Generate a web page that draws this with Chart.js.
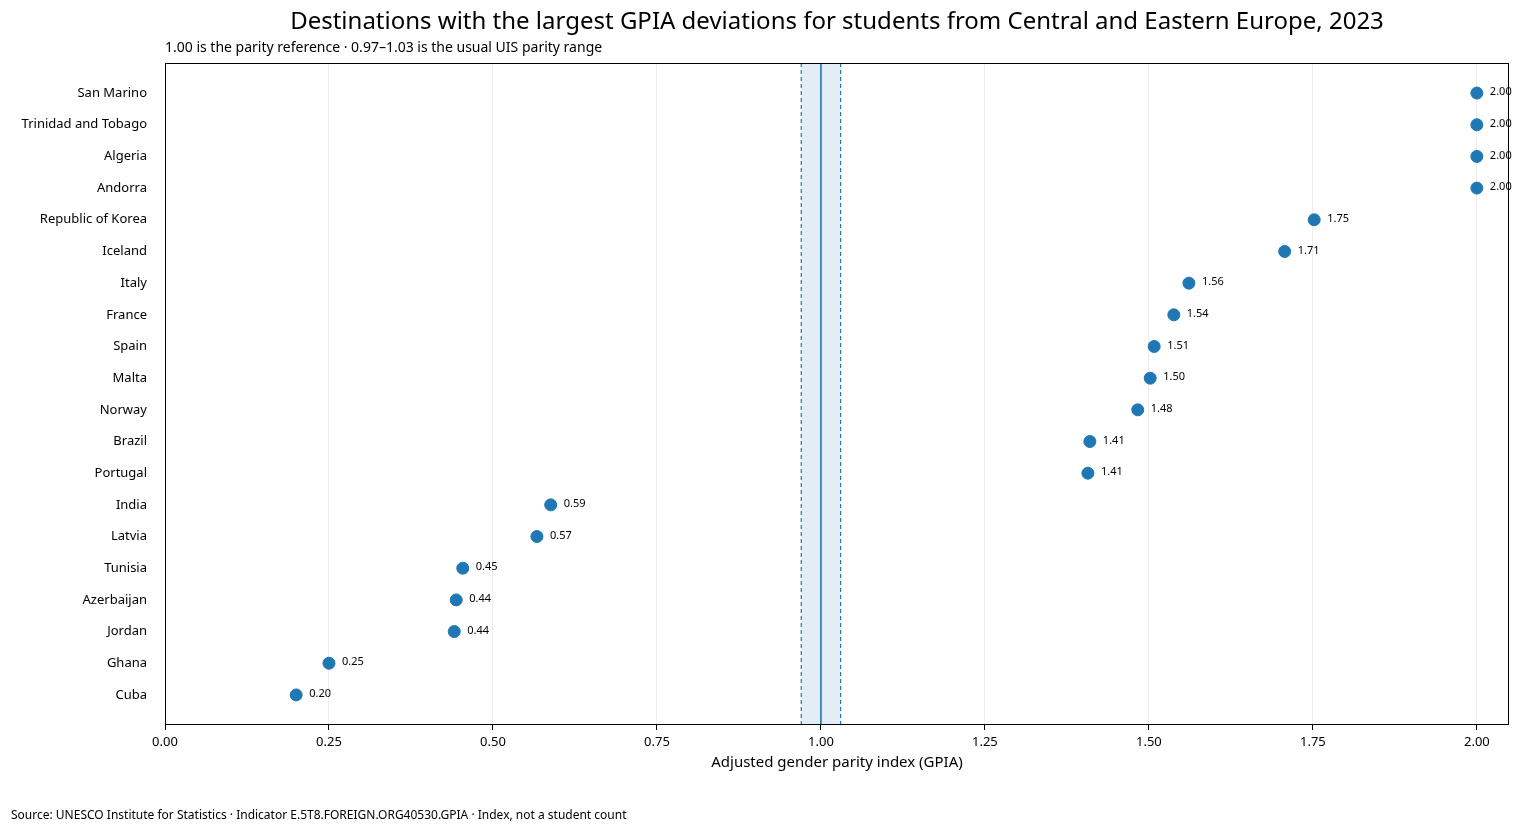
<!DOCTYPE html>
<html><head><meta charset="utf-8">
<script src="https://cdn.jsdelivr.net/npm/chart.js@4"></script>
<style>html,body{margin:0;padding:0;background:#fff}#w{width:1527px;height:834px}</style>
</head><body><div id="w"><canvas id="c"></canvas></div>
<script>
const countries = ["San Marino","Trinidad and Tobago","Algeria","Andorra","Republic of Korea","Iceland","Italy","France","Spain","Malta","Norway","Brazil","Portugal","India","Latvia","Tunisia","Azerbaijan","Jordan","Ghana","Cuba"];
const gpia = [2.00,2.00,2.00,2.00,1.752,1.707,1.561,1.538,1.508,1.502,1.483,1.410,1.407,0.588,0.567,0.454,0.444,0.441,0.250,0.200];
const xTicks = [0,0.25,0.5,0.75,1.0,1.25,1.5,1.75,2.0];
const parityRef = 1.0, parityLow = 0.97, parityHigh = 1.03;
const FONT = "'Noto Sans', 'DejaVu Sans', sans-serif";

const deco = {
  id:'deco',
  beforeDatasetsDraw(ch){
    const {ctx, chartArea:a, scales:{x}} = ch;
    const l = x.getPixelForValue(parityLow), h = x.getPixelForValue(parityHigh), m = x.getPixelForValue(parityRef);
    ctx.save();
    ctx.fillStyle = 'rgba(31,119,180,0.13)';
    ctx.fillRect(l, a.top, h-l, a.bottom-a.top);
    ctx.strokeStyle = '#1f77b4'; ctx.lineWidth = 1.2; ctx.setLineDash([4,3]);
    [l,h].forEach(p=>{ctx.beginPath();ctx.moveTo(p,a.top);ctx.lineTo(p,a.bottom);ctx.stroke();});
    ctx.setLineDash([]); ctx.lineWidth = 1.6;
    ctx.beginPath();ctx.moveTo(m,a.top);ctx.lineTo(m,a.bottom);ctx.stroke();
    ctx.restore();
  },
  afterDraw(ch){
    const {ctx, chartArea:a, scales:{x,y}} = ch;
    ctx.save();
    ctx.strokeStyle='#000'; ctx.lineWidth=1;
    ctx.strokeRect(a.left+0.5, a.top+0.5, a.right-a.left-1, a.bottom-a.top-1);
    ctx.fillStyle='#000'; ctx.textBaseline='middle';
    ctx.font = `11px ${FONT}`; ctx.textAlign='left';
    gpia.forEach((v,i)=>{ctx.fillText(v.toFixed(2), x.getPixelForValue(v)+13, y.getPixelForValue(i)-1);});
    ctx.font = `24px ${FONT}`; ctx.textAlign='center';
    ctx.fillText('Destinations with the largest GPIA deviations for students from Central and Eastern Europe, 2023', 837, 22);
    ctx.font = `14px ${FONT}`; ctx.textAlign='left';
    ctx.fillText('1.00 is the parity reference · 0.97–1.03 is the usual UIS parity range', a.left, 48);
    ctx.textAlign='center'; ctx.font = `15px ${FONT}`;
    ctx.fillText('Adjusted gender parity index (GPIA)', (a.left+a.right)/2, 763);
    ctx.textAlign='left'; ctx.font = `12px ${FONT}`;
    ctx.fillText('Source: UNESCO Institute for Statistics · Indicator E.5T8.FOREIGN.ORG40530.GPIA · Index, not a student count', 11, 816);
    ctx.restore();
  }
};

new Chart(document.getElementById('c'), {
  type:'scatter',
  data:{datasets:[{data:gpia.map((v,i)=>({x:v,y:i})), backgroundColor:'#1f77b4', borderColor:'#1f77b4', pointRadius:6, pointHoverRadius:6}]},
  options:{
    responsive:true, maintainAspectRatio:false, animation:false,
    layout:{padding:{top:63,right:18,bottom:0,left:0}},
    plugins:{legend:{display:false}, tooltip:{enabled:false}},
    scales:{
      x:{type:'linear', min:0, max:2.049, border:{display:false},
        afterBuildTicks(s){s.ticks = xTicks.map(v=>({value:v}));},
        afterFit(s){s.height = 834-725;},
        grid:{color:'#ececec', drawTicks:true, tickLength:5, tickColor:'#000'},
        ticks:{color:'#000', font:{family:FONT,size:13}, padding:4, callback:v=>Number(v).toFixed(2)}},
      y:{type:'linear', reverse:true, min:-0.95, max:19.95, border:{display:false},
        afterBuildTicks(s){s.ticks = countries.map((c,i)=>({value:i}));},
        afterFit(s){s.width = 165;},
        grid:{display:false, drawTicks:true},
        ticks:{color:'#000', font:{family:FONT,size:13}, padding:10, autoSkip:false, callback:v=>countries[v]}}
    }
  },
  plugins:[deco]
});
</script></body></html>
